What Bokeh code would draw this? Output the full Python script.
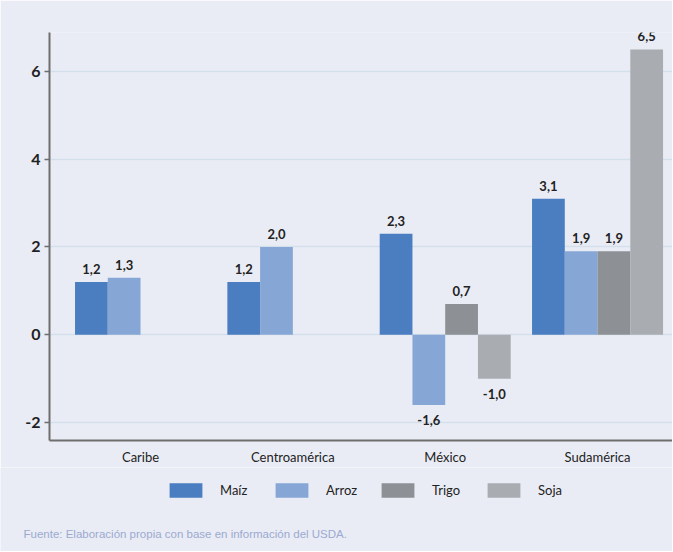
from bokeh.plotting import figure
from bokeh.layouts import column
from bokeh.models import ColumnDataSource, FixedTicker, Legend, LegendItem, Label, Range1d
from bokeh.core.properties import value
from bokeh.embed import file_html
from bokeh.resources import INLINE

# ---- data ----
regions = ["Caribe", "Centroamérica", "México", "Sudamérica"]
series = ["Maíz", "Arroz", "Trigo", "Soja"]
maiz = [1.2, 1.2, 2.3, 3.1]
arroz = [1.3, 2.0, -1.6, 1.9]
trigo = [None, None, 0.7, 1.9]
soja = [None, None, -1.0, 6.5]
y_ticks = [-2, 0, 2, 4, 6]
footnote = "Fuente: Elaboración propia con base en información del USDA."

colors = ["#4a7ec1", "#86a7d5", "#8d9094", "#a9acb0"]
BG = "#eaecf5"
FONT = "Lato"
BAR_W = 0.215
W = 672

p = figure(width=W, height=467,
           x_range=Range1d(-0.5975, 3.492), y_range=Range1d(-2.409, 6.886),
           output_backend="svg", toolbar_location=None,
           min_border_left=49, min_border_top=32, min_border_right=0,
           min_border_bottom=26)
p.frame_align = False
p.background_fill_color = BG
p.border_fill_color = BG
p.outline_line_color = None

all_series = [maiz, arroz, trigo, soja]
lx, ly, lt, loff = [], [], [], []
for j, (name, vals) in enumerate(zip(series, all_series)):
    xs, ys = [], []
    for i, v in enumerate(vals):
        if v is None:
            continue
        x = i + (j - 1.5) * BAR_W
        xs.append(x)
        ys.append(v)
        lx.append(x)
        ly.append(v)
        lt.append(f"{v:.1f}".replace(".", ","))
        loff.append(-13 if v >= 0 else 15.5)
    src = ColumnDataSource(dict(x=xs, top=ys))
    p.vbar(x="x", top="top", bottom=0, width=BAR_W, source=src,
           fill_color=colors[j], line_color=None)

lab_src = ColumnDataSource(dict(x=lx, y=ly, text=lt, off=loff))
p.text(x="x", y="y", text="text", y_offset="off", source=lab_src,
       text_align="center", text_baseline="middle",
       text_font=value(FONT), text_font_size="13px", text_font_style="bold",
       text_color="#222222")

# axes
p.yaxis.ticker = FixedTicker(ticks=y_ticks)
p.yaxis.major_label_overrides = {t: str(t) for t in y_ticks}
p.yaxis.axis_line_color = "#6e6e6e"
p.yaxis.axis_line_width = 2
p.yaxis.major_tick_line_color = "#6e6e6e"
p.yaxis.major_tick_line_width = 1.5
p.yaxis.major_tick_out = 5
p.yaxis.major_tick_in = 0
p.yaxis.minor_tick_line_color = None
p.yaxis.major_label_standoff = 4
p.yaxis.major_label_text_font = FONT
p.yaxis.major_label_text_font_size = "16px"
p.yaxis.major_label_text_font_style = "bold"
p.yaxis.major_label_text_color = "#222222"

p.xaxis.ticker = FixedTicker(ticks=list(range(len(regions))))
p.xaxis.major_label_overrides = {i: r for i, r in enumerate(regions)}
p.xaxis.axis_line_color = "#6e6e6e"
p.xaxis.axis_line_width = 2
p.xaxis.major_tick_line_color = None
p.xaxis.minor_tick_line_color = None
p.xaxis.major_tick_out = 0
p.xaxis.major_tick_in = 0
p.xaxis.major_label_standoff = 8
p.xaxis.major_label_text_font = FONT
p.xaxis.major_label_text_font_size = "13px"
p.xaxis.major_label_text_color = "#222222"

p.xgrid.grid_line_color = None
p.ygrid.grid_line_color = "#d3dfec"
p.ygrid.grid_line_width = 1.5

# ---- legend + source strip ----
H2 = 84
p2 = figure(width=W, height=H2, x_range=Range1d(0, 1), y_range=Range1d(0, 1),
            output_backend="svg", toolbar_location=None,
            x_axis_location=None, y_axis_location=None,
            min_border_left=0, min_border_right=0, min_border_top=0,
            min_border_bottom=0)
p2.frame_align = False
p2.background_fill_color = BG
p2.border_fill_color = BG
p2.outline_line_color = None
p2.grid.visible = False

items = []
for j, name in enumerate(series):
    # zero-size proxy bar: only its style is used for the legend swatch
    r = p2.vbar(x=[0.5], top=[0], bottom=[0], width=0,
                fill_color=colors[j], line_color=None)
    items.append(LegendItem(label=name, renderers=[r]))

legend = Legend(items=items, orientation="horizontal", location=(165, 52),
                glyph_width=41, glyph_height=18, label_standoff=14,
                label_width=50, spacing=1, padding=10, margin=0,
                background_fill_alpha=0, border_line_color=None,
                label_text_font=FONT, label_text_font_size="13px",
                label_text_color="#222222")
p2.add_layout(legend, "center")

note = Label(x=23, y=18, x_units="screen", y_units="screen", text=footnote,
             text_baseline="middle", text_font="Liberation Sans",
             text_font_size="11.5px", text_color="#9aaad0")
p2.add_layout(note)

layout = column(p, p2, spacing=0)
open("out.html", "w").write(file_html(layout, INLINE))
